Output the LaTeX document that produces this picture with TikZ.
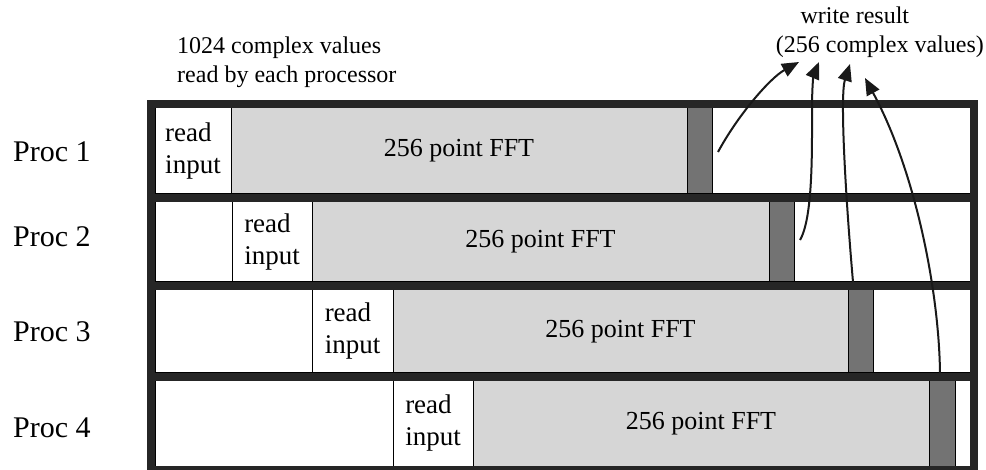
\documentclass[tikz,border=0pt]{standalone}
\usepackage{fontspec}
\setmainfont{Liberation Serif}
\usetikzlibrary{arrows.meta}
\begin{document}
\begin{tikzpicture}[x=1pt,y=-1pt,
  bx/.style={draw=black, line width=1pt, inner sep=0pt, outer sep=0pt, anchor=north west},
  rd/.style={bx, fill=white, align=left, font=\fontsize{27}{32}\selectfont},
  fft/.style={bx, fill=black!16, font=\fontsize{26}{30}\selectfont},
  wrbar/.style={bx, fill=black!55},
  blank/.style={bx, fill=white},
  proc/.style={anchor=west, inner sep=0pt, font=\fontsize{30}{34}\selectfont},
  lbl/.style={inner sep=0pt, font=\fontsize{24}{29}\selectfont},
  frame/.style={draw=black!85, line width=8pt},
  wrarrow/.style={draw=black!90, line width=2pt, -{Triangle[length=17pt,width=14pt]}}
]
\useasboundingbox (0,0) rectangle (986,470);

% row 1
\node[rd, minimum width=76pt, minimum height=86pt] (r1) at (155,108) {read\\input};
\node[fft, minimum width=456pt, minimum height=86pt] (f1) at (231,108) {256 point FFT};
\node[wrbar, minimum width=25pt, minimum height=86pt] (d1) at (687,108) {};
\node[blank, minimum width=258pt, minimum height=86pt] (b1) at (712,108) {};
% row 2
\node[blank, minimum width=77pt, minimum height=80pt] (a2) at (155,202) {};
\node[rd, minimum width=80pt, minimum height=80pt] (r2) at (232,202) {read\\input};
\node[fft, minimum width=457pt, minimum height=80pt] (f2) at (312,202) {256 point FFT};
\node[wrbar, minimum width=25pt, minimum height=80pt] (d2) at (769,202) {};
\node[blank, minimum width=176pt, minimum height=80pt] (b2) at (794,202) {};
% row 3
\node[blank, minimum width=157pt, minimum height=83pt] (a3) at (155,290) {};
\node[rd, minimum width=81pt, minimum height=83pt] (r3) at (312,290) {read\\input};
\node[fft, minimum width=455pt, minimum height=83pt] (f3) at (393,290) {256 point FFT};
\node[wrbar, minimum width=25pt, minimum height=83pt] (d3) at (848,290) {};
\node[blank, minimum width=97pt, minimum height=83pt] (b3) at (873,290) {};
% row 4
\node[blank, minimum width=238pt, minimum height=85pt] (a4) at (155,381) {};
\node[rd, minimum width=80pt, minimum height=85pt] (r4) at (393,381) {read\\input};
\node[fft, minimum width=456pt, minimum height=85pt] (f4) at (473,381) {256 point FFT};
\node[wrbar, minimum width=26pt, minimum height=85pt] (d4) at (929,381) {};
\node[blank, minimum width=15pt, minimum height=85pt] (b4) at (955,381) {};

% frame
\draw[frame] (151,104) rectangle (974,470);
\draw[frame] (151,198) -- (974,198);
\draw[frame] (151,286) -- (974,286);
\draw[frame] (147,377) -- (974,377);

% processor labels
\node[proc] (p1) at (13,152) {Proc 1};
\node[proc] (p2) at (13,237) {Proc 2};
\node[proc] (p3) at (13,332) {Proc 3};
\node[proc] (p4) at (13,428) {Proc 4};

% top labels
\node[lbl, align=left, anchor=north west] (inlbl) at (177,37) {1024 complex values\\read by each processor};
\node[lbl, align=center, anchor=east] (wrlbl) at (984,32) {\hspace*{-50pt}write result\\(256 complex values)};

% arrows
\coordinate (s1) at (718,152);
\coordinate (s2) at (800,240);
\coordinate (s3) at (853,282);
\coordinate (s4) at (940,373);
\coordinate (e1) at (799,62);
\coordinate (e2) at (819,62);
\coordinate (e3) at (850,64);
\coordinate (e4) at (865,78);
\draw[wrarrow] (s1) .. controls (738,115) and (770,78) .. (e1);
\draw[wrarrow] (s2) .. controls (813,218) and (812,150) .. (812,110) .. controls (812,82) and (814,74) .. (e2);
\draw[wrarrow] (s3) .. controls (845,190) and (840,95) .. (e3);
\draw[wrarrow] (s4) .. controls (939,290) and (915,170) .. (e4);
\end{tikzpicture}
\end{document}
